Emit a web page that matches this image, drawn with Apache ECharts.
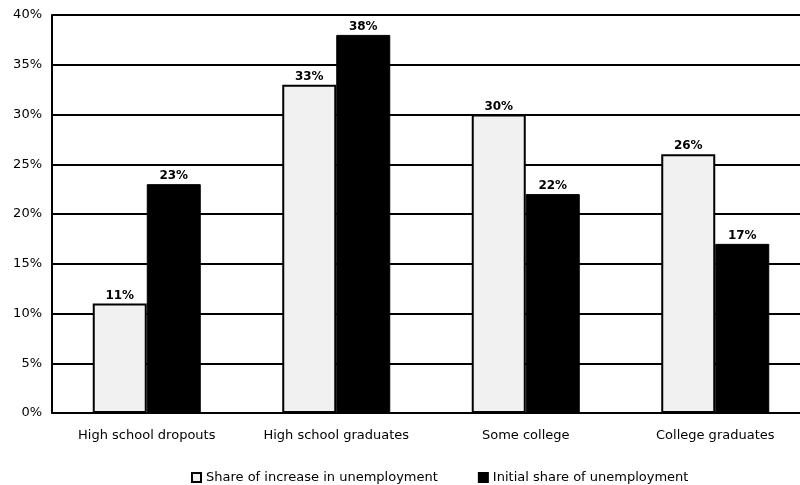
<!DOCTYPE html>
<html>
<head>
<meta charset="utf-8">
<script src="https://cdn.jsdelivr.net/npm/echarts@6/dist/echarts.min.js"></script>
<style>
  html, body { margin: 0; padding: 0; background: #ffffff; overflow: hidden; }
  /* the plot area runs slightly past the right edge of the window */
  #chart { width: 810px; height: 485px; }
</style>
</head>
<body>
<div id="chart"></div>
<script>
// Education groups on the category axis
const categories = ['High school dropouts', 'High school graduates', 'Some college', 'College graduates'];
// Percent shares per group
const shareOfIncrease = [11, 33, 30, 26];
const initialShare = [23, 38, 22, 17];
// Series names shown in the legend
const seriesNames = ['Share of increase in unemployment', 'Initial share of unemployment'];

const FONT = 'DejaVu Sans, Verdana, sans-serif';

const chart = echarts.init(document.getElementById('chart'), null, { renderer: 'canvas' });

const labelStyle = {
  show: true,
  position: 'top',
  distance: 2,
  formatter: p => p.value + '%',
  color: '#000',
  fontFamily: FONT,
  fontWeight: 'bold',
  fontSize: 12
};

chart.setOption({
  animation: false,
  backgroundColor: '#ffffff',
  grid: { left: 52, top: 15, right: 0, height: 398, containLabel: false },
  legend: {
    top: 466,
    left: 186,
    itemGap: 40,
    itemWidth: 9,
    itemHeight: 9,
    icon: 'rect',
    textStyle: { fontFamily: FONT, fontSize: 13, color: '#000' },
    data: seriesNames
  },
  xAxis: {
    type: 'category',
    data: categories,
    axisLine: { lineStyle: { color: '#000', width: 2 } },
    axisTick: { show: false },
    axisLabel: {
      interval: 0,
      margin: 16,
      color: '#000',
      fontFamily: FONT,
      fontSize: 13
    }
  },
  yAxis: {
    type: 'value',
    min: 0,
    max: 40,
    interval: 5,
    axisLine: { show: true, lineStyle: { color: '#000', width: 2 } },
    axisTick: { show: false },
    axisLabel: {
      formatter: '{value}%',
      margin: 10,
      color: '#000',
      fontFamily: FONT,
      fontSize: 13
    },
    splitLine: { lineStyle: { color: '#000', width: 2 } }
  },
  series: [
    {
      name: seriesNames[0],
      type: 'bar',
      data: shareOfIncrease,
      barGap: '0%',
      barCategoryGap: '43%',
      itemStyle: { color: '#f1f1f1', borderColor: '#000', borderWidth: 2 },
      label: labelStyle
    },
    {
      name: seriesNames[1],
      type: 'bar',
      data: initialShare,
      itemStyle: { color: '#000', borderColor: '#000', borderWidth: 1 },
      label: labelStyle
    }
  ]
});
</script>
</body>
</html>
